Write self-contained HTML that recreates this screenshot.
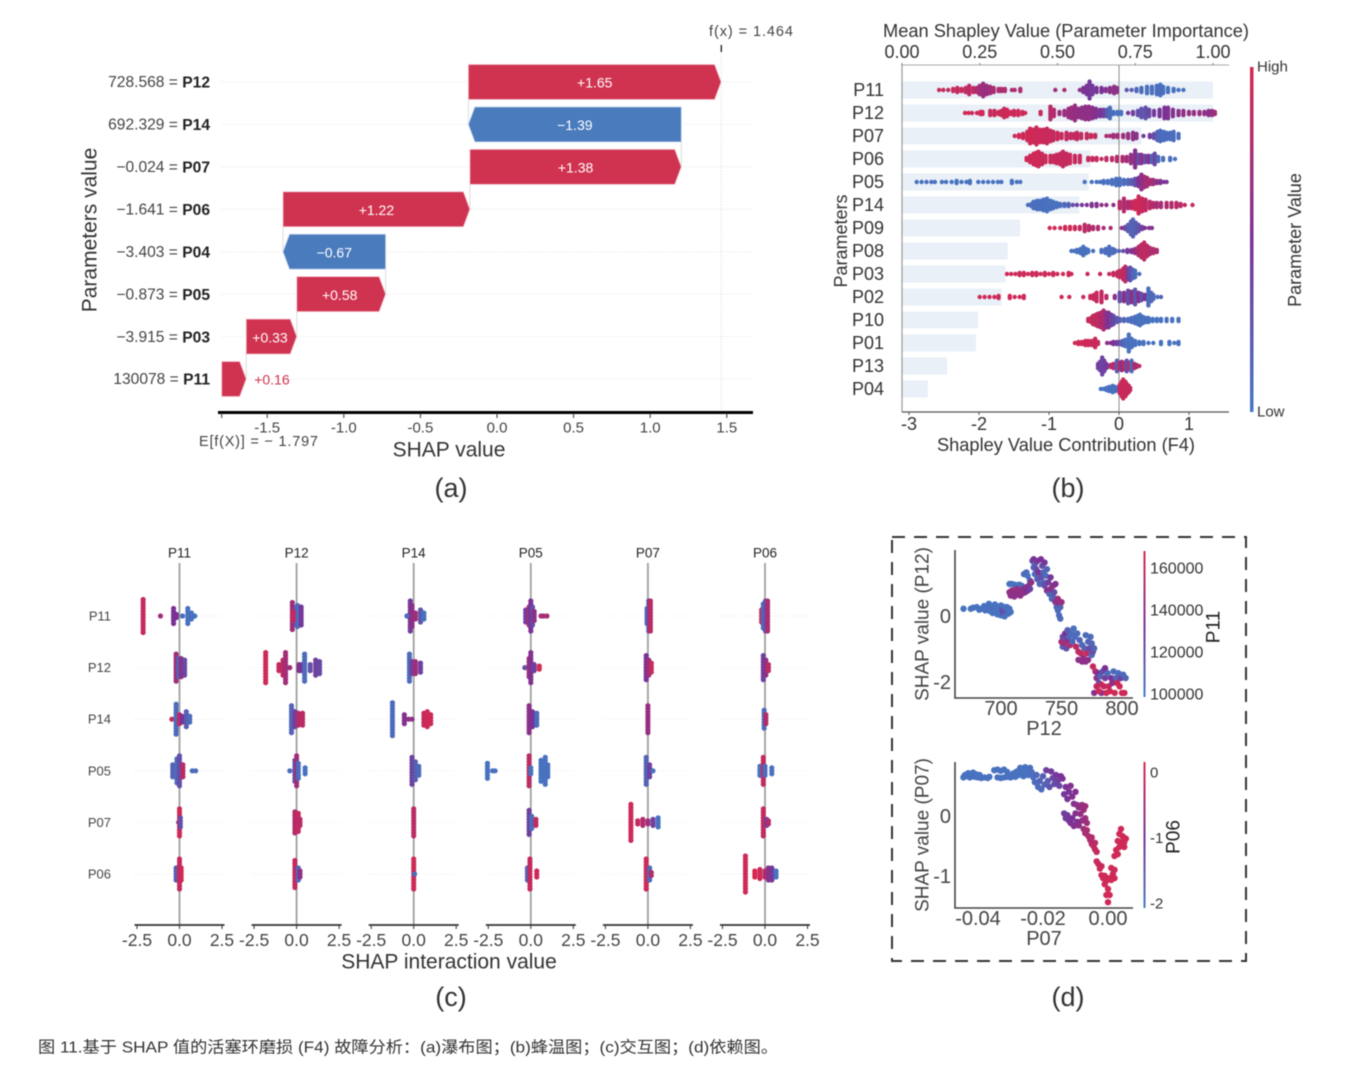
<!DOCTYPE html>
<html lang="zh">
<head>
<meta charset="utf-8">
<title>SHAP fault analysis figure</title>
<style>
html,body{margin:0;padding:0;background:#fff;}
svg{display:block;filter:blur(0.5px);}
text{font-family:"Liberation Sans","Noto Sans CJK SC",sans-serif;}
</style>
</head>
<body>
<svg id="figure" xmlns="http://www.w3.org/2000/svg" width="1355" height="1074" viewBox="0 0 1355 1074">
<defs>
<linearGradient id="cmap" x1="0" y1="1" x2="0" y2="0">
<stop offset="0" stop-color="#4279c4"/>
<stop offset="0.5" stop-color="#7a3296"/>
<stop offset="1" stop-color="#d72850"/>
</linearGradient>
</defs>
<rect x="0" y="0" width="1355" height="1074" fill="#fff"/>
<g id="panelA"></g>
<g id="panelB"></g>
<g id="panelC"></g>
<g id="panelD">
<rect x="892" y="537" width="354" height="424" fill="none" stroke="#333" stroke-width="2" stroke-dasharray="13 9"/>
</g>

<text transform="translate(90 230) rotate(-90)" text-anchor="middle" dominant-baseline="central" font-size="21" fill="#333">Parameters value</text>
<text x="449" y="450" text-anchor="middle" dominant-baseline="central" font-size="21" fill="#333">SHAP value</text>
<text x="709" y="32" dominant-baseline="central" font-size="14.5" fill="#444" textLength="84" lengthAdjust="spacing">f(x) = 1.464</text>
<text x="199" y="442" dominant-baseline="central" font-size="14.5" fill="#444" textLength="119" lengthAdjust="spacing">E[f(X)] = − 1.797</text>
<text x="451" y="488" text-anchor="middle" dominant-baseline="central" font-size="27" fill="#333">(a)</text>

<text x="883" y="31" dominant-baseline="central" font-size="18" fill="#333" textLength="366" lengthAdjust="spacingAndGlyphs">Mean Shapley Value (Parameter Importance)</text>
<text x="937" y="445" dominant-baseline="central" font-size="18" fill="#333" textLength="258" lengthAdjust="spacingAndGlyphs">Shapley Value Contribution (F4)</text>
<text transform="translate(841 241) rotate(-90)" text-anchor="middle" dominant-baseline="central" font-size="18" fill="#333">Parameters</text>
<rect x="1250" y="67" width="3.5" height="345" fill="url(#cmap)"/>
<text x="1257" y="67" dominant-baseline="central" font-size="15" fill="#333">High</text>
<text x="1257" y="412" dominant-baseline="central" font-size="15" fill="#333">Low</text>
<text transform="translate(1295 240) rotate(-90)" text-anchor="middle" dominant-baseline="central" font-size="18" fill="#333">Parameter Value</text>
<text x="1068" y="488" text-anchor="middle" dominant-baseline="central" font-size="27" fill="#333">(b)</text>

<text x="449" y="962" text-anchor="middle" dominant-baseline="central" font-size="21" fill="#333">SHAP interaction value</text>
<text x="451" y="997" text-anchor="middle" dominant-baseline="central" font-size="27" fill="#333">(c)</text>
<text x="1068" y="997" text-anchor="middle" dominant-baseline="central" font-size="27" fill="#333">(d)</text>

<text transform="translate(923 624) rotate(-90)" text-anchor="middle" dominant-baseline="central" font-size="19" fill="#444">SHAP value (P12)</text>
<text x="1044" y="729" text-anchor="middle" dominant-baseline="central" font-size="20" fill="#444">P12</text>
<text transform="translate(1214 627) rotate(-90)" text-anchor="middle" dominant-baseline="central" font-size="19" fill="#222">P11</text>
<rect x="1143.5" y="551" width="2" height="146" fill="url(#cmap)"/>
<text transform="translate(923 835) rotate(-90)" text-anchor="middle" dominant-baseline="central" font-size="19" fill="#444">SHAP value (P07)</text>
<text x="1044" y="939" text-anchor="middle" dominant-baseline="central" font-size="20" fill="#444">P07</text>
<text transform="translate(1174 837) rotate(-90)" text-anchor="middle" dominant-baseline="central" font-size="19" fill="#222">P06</text>
<rect x="1143.5" y="762" width="2" height="146" fill="url(#cmap)"/>

<text x="38" y="1048" dominant-baseline="central" font-size="16" fill="#333" textLength="740" lengthAdjust="spacingAndGlyphs">图 11.基于 SHAP 值的活塞环磨损 (F4) 故障分析：(a)瀑布图；(b)蜂温图；(c)交互图；(d)依赖图。</text>
</svg>

<script>
/* ---------- Panel (a) waterfall data ---------- */
const waterfallBase = -1.797;
const waterfallFeatures = ['P11','P03','P05','P04','P06','P07','P14','P12'];
const waterfallFeatureValues = ['130078','−3.915','−0.873','−3.403','−1.641','−0.024','692.329','728.568'];
const waterfallShap = [0.16,0.33,0.58,-0.67,1.22,1.38,-1.39,1.65];
const waterfallTicks = [-1.5,-1.0,-0.5,0.0,0.5,1.0,1.5];

/* ---------- Panel (b) beeswarm data: [shap value, stacked points, feature value 0..1] ---------- */
const importanceFeatures = ['P11','P12','P07','P06','P05','P14','P09','P08','P03','P02','P10','P01','P13','P04'];
const importanceMeans = [1.00,1.00,0.77,0.607,0.60,0.57,0.38,0.34,0.333,0.32,0.245,0.238,0.145,0.083];
const importanceTicks = [0,0.25,0.5,0.75,1];
const contributionTicks = [-3,-2,-1,0,1];
const beeP11 = [[-2.57,1,.9],[-2.51,1,.9],[-2.44,1,.9],[-2.37,2,.92],[-2.31,3,.9],[-2.25,2,.92],[-2.19,3,.88],[-2.14,5,.88],[-2.08,3,.85],[-2.03,3,.78],[-1.99,5,.72],[-1.94,7,.66],[-1.89,5,.66],[-1.84,4,.72],[-1.79,3,.75],[-1.72,2,.8],[-1.68,2,.75],[-1.63,2,.8],[-1.53,1,.75],[-1.49,1,.8],[-1.41,2,.75],[-0.91,1,.7],[-0.78,1,.75],[-0.56,1,.6],[-0.51,3,.5],[-0.46,5,.5],[-0.42,9,.45],[-0.38,5,.45],[-0.32,3,.5],[-0.25,3,.5],[-0.19,2,.55],[-0.13,3,.6],[-0.07,4,.6],[-0.03,3,.6],[0.11,1,.25],[0.18,1,.2],[0.25,2,.12],[0.32,3,.1],[0.4,4,.08],[0.47,4,.08],[0.54,5,.08],[0.59,6,.08],[0.63,4,.06],[0.7,3,.05],[0.78,2,.05],[0.85,1,.05],[0.92,1,.05]];
const beeP12 = [[-2.2,1,.95],[-2.15,1,.95],[-2.1,1,.95],[-2.03,1,.95],[-1.98,2,.95],[-1.95,2,.95],[-1.84,3,.92],[-1.78,3,.92],[-1.72,2,.95],[-1.68,3,.95],[-1.64,5,.92],[-1.6,4,.95],[-1.55,2,.95],[-1.5,3,.92],[-1.44,3,.95],[-1.38,2,.92],[-1.34,1,.95],[-1.12,2,.9],[-0.98,7,.82],[-0.93,4,.8],[-0.85,2,.7],[-0.78,3,.68],[-0.72,5,.66],[-0.68,6,.68],[-0.63,8,.65],[-0.58,5,.62],[-0.53,6,.62],[-0.48,7,.6],[-0.43,7,.62],[-0.38,6,.58],[-0.33,5,.55],[-0.27,4,.5],[-0.22,4,.4],[-0.17,4,.2],[-0.13,6,.1],[-0.08,2,.1],[-0.02,2,.05],[0.03,2,.05],[0.13,1,.5],[0.2,2,.4],[0.27,3,.3],[0.32,5,.25],[0.38,6,.28],[0.43,4,.35],[0.5,3,.45],[0.58,4,.5],[0.65,6,.5],[0.7,6,.52],[0.77,4,.55],[0.85,3,.6],[0.92,3,.62],[1.0,2,.65],[1.07,2,.62],[1.15,2,.68],[1.22,2,.62],[1.28,3,.6],[1.33,3,.62],[1.37,2,.7]];
const beeP07 = [[-1.49,1,.95],[-1.43,2,.95],[-1.37,3,.95],[-1.31,5,.95],[-1.27,8,.95],[-1.23,7,.95],[-1.18,9,.92],[-1.13,7,.95],[-1.08,7,.92],[-1.03,8,.92],[-0.98,6,.92],[-0.94,5,.9],[-0.88,4,.92],[-0.82,3,.92],[-0.75,4,.9],[-0.69,3,.88],[-0.64,3,.9],[-0.6,4,.88],[-0.54,3,.9],[-0.46,3,.88],[-0.4,2,.9],[-0.34,2,.88],[-0.18,1,.75],[-0.13,1,.75],[-0.08,2,.7],[-0.02,2,.72],[0.06,2,.7],[0.13,3,.65],[0.2,4,.6],[0.25,3,.6],[0.35,1,.45],[0.44,2,.45],[0.5,3,.3],[0.55,5,.15],[0.59,6,.1],[0.64,5,.08],[0.68,4,.1],[0.73,4,.08],[0.78,5,.08],[0.85,3,.08]];
const beeP06 = [[-1.32,2,.95],[-1.27,4,.95],[-1.22,6,.95],[-1.18,7,.95],[-1.15,8,.95],[-1.1,6,.92],[-1.05,4,.95],[-0.98,4,.92],[-0.93,4,.92],[-0.89,5,.9],[-0.84,6,.92],[-0.8,8,.9],[-0.75,6,.9],[-0.7,5,.92],[-0.63,4,.9],[-0.56,4,.92],[-0.44,2,.9],[-0.38,2,.9],[-0.32,2,.92],[-0.25,1,.9],[-0.18,2,.85],[-0.1,2,.85],[-0.03,3,.8],[0.05,3,.78],[0.11,3,.7],[0.17,5,.65],[0.23,9,.55],[0.28,5,.3],[0.32,5,.6],[0.37,4,.3],[0.42,4,.55],[0.47,4,.15],[0.51,6,.35],[0.56,3,.12],[0.63,2,.08],[0.73,2,.08],[0.8,1,.05]];
const beeP05 = [[-2.89,1,.05],[-2.82,1,.05],[-2.75,1,.05],[-2.68,1,.05],[-2.63,1,.05],[-2.53,1,.05],[-2.47,1,.05],[-2.39,1,.05],[-2.32,2,.05],[-2.25,1,.05],[-2.18,1,.05],[-2.13,2,.05],[-2.01,1,.05],[-1.94,1,.05],[-1.87,1,.05],[-1.8,1,.05],[-1.73,1,.05],[-1.68,1,.05],[-1.53,2,.05],[-1.46,1,.05],[-1.41,1,.05],[-0.49,1,.05],[-0.39,1,.05],[-0.32,1,.05],[-0.27,1,.05],[-0.22,2,.05],[-0.16,2,.05],[-0.1,3,.05],[-0.04,4,.06],[0.01,4,.08],[0.07,3,.1],[0.13,3,.12],[0.18,3,.2],[0.23,4,.3],[0.28,5,.5],[0.32,8,.62],[0.36,6,.7],[0.4,5,.72],[0.45,3,.75],[0.49,3,.7],[0.54,2,.6],[0.59,2,.55],[0.64,1,.5],[0.68,1,.5]];
const beeP14 = [[-1.3,1,.08],[-1.25,2,.08],[-1.22,4,.08],[-1.17,5,.08],[-1.13,5,.06],[-1.08,6,.06],[-1.03,7,.05],[-0.98,5,.05],[-0.94,4,.05],[-0.89,3,.05],[-0.84,2,.08],[-0.78,2,.1],[-0.72,2,.15],[-0.66,1,.3],[-0.6,1,.4],[-0.53,1,.45],[-0.46,1,.5],[-0.39,2,.52],[-0.32,2,.55],[-0.25,1,.6],[-0.18,1,.6],[-0.08,1,.6],[0.01,4,.82],[0.07,7,.8],[0.13,4,.78],[0.18,4,.85],[0.23,5,.95],[0.28,9,.95],[0.33,7,.9],[0.38,6,.88],[0.44,4,.85],[0.49,3,.8],[0.54,3,.75],[0.6,3,.75],[0.68,3,.78],[0.75,3,.8],[0.82,3,.82],[0.88,2,.85],[0.94,1,.9],[1.05,1,.9]];
const beeP09 = [[-0.99,1,.95],[-0.92,1,.95],[-0.84,1,.95],[-0.77,2,.95],[-0.7,2,.95],[-0.63,2,.92],[-0.56,2,.88],[-0.49,4,.85],[-0.43,3,.82],[-0.37,2,.8],[-0.3,2,.78],[-0.22,1,.75],[-0.12,1,.75],[0.04,1,.6],[0.09,2,.35],[0.13,4,.2],[0.17,7,.15],[0.2,9,.15],[0.24,6,.2],[0.28,4,.25],[0.33,2,.4],[0.37,1,.5],[0.43,1,.55],[0.47,1,.55]];
const beeP08 = [[-0.68,1,.05],[-0.64,1,.05],[-0.6,2,.05],[-0.55,3,.05],[-0.51,5,.05],[-0.47,3,.05],[-0.44,2,.05],[-0.37,1,.05],[-0.25,2,.06],[-0.19,3,.08],[-0.14,5,.08],[-0.09,3,.08],[-0.06,2,.1],[0,1,.15],[0.06,1,.3],[0.12,2,.45],[0.18,2,.55],[0.23,3,.65],[0.28,5,.8],[0.32,7,.85],[0.36,9,.88],[0.4,6,.85],[0.44,4,.8],[0.49,3,.8],[0.54,2,.75]];
const beeP03 = [[-1.6,1,.95],[-1.54,1,.95],[-1.48,1,.95],[-1.42,2,.95],[-1.36,2,.95],[-1.3,1,.95],[-1.24,2,.95],[-1.18,2,.95],[-1.12,1,.95],[-1.06,2,.95],[-1,1,.95],[-0.94,2,.95],[-0.88,1,.95],[-0.8,1,.95],[-0.72,2,.95],[-0.68,1,.95],[-0.45,1,.9],[-0.27,1,.9],[-0.14,1,.9],[-0.08,2,.9],[-0.02,3,.9],[0.01,4,.9],[0.06,6,.9],[0.09,8,.85],[0.13,6,.4],[0.16,7,.3],[0.2,5,.15],[0.23,4,.1],[0.29,1,.08]];
const beeP02 = [[-1.99,1,.95],[-1.92,1,.95],[-1.85,1,.95],[-1.78,1,.95],[-1.72,2,.95],[-1.56,2,.95],[-1.49,1,.95],[-1.42,1,.95],[-1.36,2,.95],[-0.82,1,.95],[-0.71,1,.95],[-0.51,1,.92],[-0.41,2,.92],[-0.36,3,.92],[-0.32,5,.9],[-0.25,6,.88],[-0.18,2,.85],[-0.06,2,.6],[0.01,5,.3],[0.07,5,.55],[0.13,7,.3],[0.18,6,.6],[0.23,8,.25],[0.28,5,.55],[0.32,4,.3],[0.37,3,.5],[0.42,9,.1],[0.46,5,.12],[0.49,3,.1],[0.55,1,.1],[0.6,1,.15]];
const beeP10 = [[-0.44,2,.9],[-0.4,3,.92],[-0.37,5,.9],[-0.33,6,.85],[-0.3,7,.88],[-0.26,8,.8],[-0.22,10,.78],[-0.18,8,.6],[-0.15,8,.52],[-0.11,6,.4],[-0.08,5,.35],[-0.03,3,.25],[0.01,2,.2],[0.07,2,.12],[0.13,2,.1],[0.18,3,.08],[0.23,4,.08],[0.27,5,.05],[0.3,6,.05],[0.34,4,.05],[0.38,3,.05],[0.42,3,.05],[0.48,2,.05],[0.54,2,.05],[0.6,2,.05],[0.68,2,.05],[0.76,2,.05],[0.85,2,.05]];
const beeP01 = [[-0.63,1,.95],[-0.58,2,.95],[-0.53,2,.95],[-0.48,3,.95],[-0.44,3,.95],[-0.39,3,.92],[-0.34,5,.92],[-0.3,2,.9],[-0.17,1,.6],[-0.12,1,.6],[-0.08,2,.5],[-0.03,2,.45],[0.01,2,.3],[0.05,3,.15],[0.09,4,.08],[0.14,9,.05],[0.18,5,.05],[0.23,3,.05],[0.29,2,.05],[0.35,2,.05],[0.42,1,.05],[0.49,1,.05],[0.6,2,.05],[0.72,2,.05],[0.79,1,.05],[0.85,2,.05]];
const beeP13 = [[-0.3,3,.4],[-0.27,5,.4],[-0.24,9,.38],[-0.21,6,.4],[-0.18,3,.45],[-0.12,2,.8],[-0.08,3,.85],[-0.03,6,.2],[0.01,4,.85],[0.04,5,.6],[0.08,4,.9],[0.11,6,.3],[0.15,4,.85],[0.18,6,.1],[0.22,3,.8],[0.25,2,.7],[0.29,1,.9]];
const beeP04 = [[-0.26,1,.05],[-0.22,1,.05],[-0.18,2,.05],[-0.14,3,.05],[-0.09,4,.05],[-0.05,3,.05],[-0.03,2,.1],[0.01,5,.9],[0.04,8,.92],[0.06,10,.92],[0.09,8,.92],[0.11,6,.92],[0.14,4,.9],[0.16,2,.9]];
const beeRows = [beeP11,beeP12,beeP07,beeP06,beeP05,beeP14,beeP09,beeP08,beeP03,beeP02,beeP10,beeP01,beeP13,beeP04];

/* ---------- Panel (c) interaction data: per row, one cluster list per column ---------- */
const interactionColumns = ['P11','P12','P14','P05','P07','P06'];
const interactionTicks = [-2.5,0,2.5];
const interactionP11 = [
 [[-2.14,12,.9],[-1.12,1,.7],[-.35,6,.5],[-.18,2,.5],[.18,1,.1],[.49,6,.05],[.7,3,.05],[.9,1,.05]],
 [[-.25,10,.7],[-.05,6,.3],[.05,8,.1],[.27,7,.45],[-.2,4,.9]],
 [[-.2,11,.45],[-.1,8,.6],[-.4,1,.1],[.1,3,.7],[.4,5,.25],[.6,3,.05]],
 [[-.3,5,.4],[-.1,7,.75],[0,11,.5],[.1,7,.3],[.2,4,.6],[.6,1,.75],[.75,1,.75],[.95,1,.75]],
 [[-.05,6,.1],[.05,11,.3],[.15,11,.85]],
 [[-.2,5,.95],[-.1,9,.1],[.03,11,.25],[.15,11,.75]]];
const interactionP12 = [
 [[-.2,10,.7],[-.05,7,.15],[.1,7,.6],[.3,6,.35]],
 [[-1.82,11,.95],[-1.04,3,.9],[-.8,6,.85],[-.65,11,.72],[-.4,1,.7],[.14,3,.55],[.3,3,.5],[.47,10,.1],[.8,3,.3],[1.12,6,.4],[1.35,5,.35]],
 [[-.25,10,.1],[-.1,5,.4],[.1,5,.7],[.4,4,.4]],
 [[-.35,1,.3],[-.1,7,.7],[0,11,.55],[.2,3,.4],[.5,2,1]],
 [[-.1,9,.5],[.05,6,.7],[.2,4,.9]],
 [[-.1,9,.4],[.05,6,.6],[.2,3,.85]]];
const interactionP14 = [
 [[-.45,1,.9],[-.2,11,.1],[0,4,.9],[.15,3,.5],[.4,6,.2],[.6,3,.1]],
 [[-.3,10,.15],[-.1,6,.4],[.1,5,.8],[.35,5,.85]],
 [[-1.25,12,.1],[-.55,4,.55],[-.3,1,.6],[-.1,1,.6],[.6,5,.9],[.8,6,.95],[1.0,4,.95]],
 [[-.1,10,.6],[.1,6,.5],[.35,5,.1]],
 [[0,10,.65]],
 [[-.05,7,.1],[.05,4,.8]]];
const interactionP05 = [
 [[-.4,5,.15],[-.15,9,.1],[0,11,.3],[.2,5,.85],[.75,1,.1],[.95,1,.1]],
 [[-.4,1,.1],[-.1,8,.3],[0,11,.7],[.1,6,.1],[.5,3,.05]],
 [[-.1,10,.4],[.1,7,.2],[.3,4,.1]],
 [[-2.55,6,.05],[-2.25,1,.05],[-2.1,1,.05],[-.1,11,.85],[0,3,.05],[.6,8,.05],[.85,10,.05],[1,5,.05]],
 [[-.1,10,.15],[.1,5,.4],[.3,1,.05]],
 [[-.3,4,.05],[-.1,10,.9],[0,4,.1],[.4,3,.05]]];
const interactionP07 = [
 [[-.05,1,.4],[0,10,.95],[.05,4,.3]],
 [[-.1,8,.8],[.1,7,.9],[.2,3,.85]],
 [[0,10,.85]],
 [[-.1,9,.4],[.05,5,.1],[.3,3,.9]],
 [[-1,13,.95],[-.6,2,.9],[-.3,3,.8],[0,2,.7],[.3,3,.4],[.6,4,.05]],
 [[-.1,10,.9],[.1,3,.4],[.2,2,.8]]];
const interactionP06 = [
 [[-.2,5,.2],[0,11,.9],[.1,5,.95]],
 [[-.1,10,.9],[.1,5,.1],[.2,3,.6]],
 [[0,11,.95],[.05,1,.1]],
 [[-.2,5,.15],[-.05,11,.9],[.35,3,.95]],
 [[-.1,11,.95],[.1,5,.1],[.2,2,.8]],
 [[-1.15,13,.95],[-.6,3,1],[-.3,4,.95],[0,3,.8],[.2,5,.6],[.4,5,.45],[.65,3,.05]]];
const interactionRows = [interactionP11,interactionP12,interactionP14,interactionP05,interactionP07,interactionP06];
const interactionRowNames = ['P11','P12','P14','P05','P07','P06'];

/* ---------- Panel (d) dependence data: [feature value, shap value, colour feature 0..1] ---------- */
const dependenceP12 = [[669,.25,.05],[675,.25,.05],[677,.28,.05],[680,.3,.05],[682,.22,.05],[684,.25,.05],[686,.33,.05],[687,.2,.05],[689,.28,.05],[690,.4,.05],[691,.18,.05],[692,.3,.05],[693,.12,.05],[694,.25,.08],[695,.38,.05],[696,.2,.05],[697,.08,.05],[698,.3,.05],[699,.15,.05],[700,.35,.05],[700,.05,.05],[701,.22,.3],[702,.12,.35],[703,.3,.05],[703,.02,.05],[704,.18,.2],[705,.3,.05],[706,.1,.05],[707,.25,.05],[708,.15,.05],
[707,1.0,.05],[709,1.0,.05],[711,.98,.05],[713,.96,.05],[715,.98,.05],[717,.95,.1],[719,.9,.1],
[707,.75,.6],[708,.65,.6],[709,.8,.65],[710,.68,.65],[711,.62,.6],[712,.75,.6],[713,.85,.65],[714,.68,.6],[715,.78,.6],[716,.65,.6],[717,.8,.65],[718,.72,.6],[719,.85,.55],[720,.75,.6],[721,.9,.6],[722,.8,.5],[723,.95,.55],[724,.85,.4],
[719,1.3,.1],[721,1.35,.1],[722,1.25,.05],[724,1.1,.2],[725,1.05,.6],[726,1.7,.3],[727,1.75,.5],[727,1.5,.15],[728,1.6,.2],[728,1.3,.1],[729,1.45,.3],[730,1.15,.2],[730,1.7,.5],[731,1.35,.5],[732,1.0,.15],[733,1.75,.5],[733,1.2,.3],[734,1.55,.3],[735,1.05,.15],[735,1.35,.15],[736,1.65,.45],[736,.95,.3],[737,1.25,.1],[738,1.45,.15],[738,.8,.55],[739,1.05,.4],[740,.7,.15],[741,1.2,.45],[741,.85,.6],[742,.55,.1],[743,.95,.6],[743,.6,.15],[744,.75,.3],[745,.45,.6],[745,1.0,.55],[746,.3,.15],[747,.55,.7],[747,.2,.1],[748,.4,.6],[748,.05,.1],[749,.3,.15],[749,-.05,.1],[750,.45,.65],
[750,-.75,.7],[751,-.9,.15],[751,-.6,.3],[752,-.8,.75],[753,-.5,.5],[754,-.95,.3],[755,-.4,.2],[755,-.7,.6],[756,-.6,.15],[757,-.85,.8],[758,-.5,.1],[759,-.75,.15],[760,-.35,.05],[761,-.6,.1],[762,-.9,.85],[763,-.5,.1],[764,-1.05,.85],[764,-1.3,.6],[765,-.7,.15],[766,-1.1,.9],[767,-.85,.1],[767,-1.35,.6],[768,-1.25,.65],[769,-.95,.2],[770,-.55,.1],[770,-1.35,.6],[771,-1.1,.9],[772,-.75,.15],[772,-1.3,.6],[773,-.95,.3],[774,-.6,.1],[775,-1.15,.1],[775,-.8,.15],[776,-1.05,.3],[777,-.95,.15],
[776,-1.5,.9],[778,-1.65,.85],[779,-1.85,.6],[780,-1.7,.5],[781,-2.0,.3],[782,-1.8,.15],[783,-2.3,.5],[784,-1.65,.3],[785,-2.1,.95],[786,-1.85,.4],[787,-2.3,.95],[788,-1.7,.1],[789,-2.1,.9],[790,-2.25,.95],[791,-1.85,.5],[792,-2.0,.6],[793,-1.65,.1],[794,-2.3,.95],[795,-1.85,.15],[796,-2.0,.9],[797,-1.7,.1],[798,-2.1,.95],[799,-1.85,.4],[800,-2.3,.95],[801,-1.75,.1],[802,-2.3,.95],[803,-1.85,.15],[777,-2.3,.55],[779,-2.1,.9],[781,-2.25,.95],[783,-2.05,.9],[786,-1.55,.5]];
const dependenceP07 = [[-.0445,.66,.05],[-.044,.7,.05],[-.0435,.68,.05],[-.043,.73,.05],[-.0425,.66,.05],[-.042,.7,.05],[-.0415,.74,.05],[-.041,.67,.05],[-.0405,.71,.05],[-.04,.66,.05],[-.0395,.7,.05],[-.039,.65,.05],[-.038,.66,.05],[-.037,.65,.05],[-.0365,.67,.05],
[-.035,.78,.05],[-.034,.79,.05],[-.033,.77,.05],[-.032,.79,.05],[-.031,.75,.05],[-.034,.66,.05],[-.033,.65,.05],[-.032,.66,.05],[-.031,.67,.05],[-.03,.66,.05],
[-.0295,.7,.05],[-.029,.73,.05],[-.0285,.67,.05],[-.028,.76,.05],[-.0275,.7,.05],[-.027,.82,.05],[-.0265,.75,.05],[-.026,.68,.05],[-.0255,.83,.05],[-.025,.76,.05],[-.0245,.7,.05],[-.024,.82,.05],[-.0235,.75,.08],[-.023,.66,.08],[-.0225,.58,.1],[-.022,.7,.12],[-.0215,.5,.1],[-.021,.6,.15],[-.0205,.46,.1],[-.02,.68,.2],[-.0195,.54,.15],
[-.019,.78,.4],[-.0185,.6,.2],[-.018,.5,.25],[-.0175,.76,.45],[-.017,.65,.35],[-.0165,.55,.3],[-.016,.7,.45],[-.0155,.6,.4],[-.015,.52,.35],[-.0145,.68,.5],[-.014,.64,.5],
[-.0135,.38,.45],[-.013,.5,.5],[-.0125,.3,.5],[-.012,.42,.5],[-.0115,.52,.55],[-.011,.34,.55],[-.0105,.22,.55],[-.01,.42,.55],[-.0135,.06,.4],[-.013,-.02,.42],[-.0125,.03,.45],[-.012,-.06,.45],[-.0115,-.1,.5],[-.011,-.02,.5],[-.0105,-.15,.55],[-.01,.06,.55],[-.0095,.2,.6],[-.0095,-.08,.55],[-.009,.16,.62],[-.009,-.14,.6],[-.0085,.05,.62],[-.008,.2,.65],[-.008,-.06,.62],[-.0075,.12,.68],[-.007,-.02,.68],[-.007,.18,.7],[-.0065,-.1,.7],
[-.0075,-.2,.7],[-.007,-.27,.72],[-.0065,-.22,.75],[-.006,-.32,.75],[-.0055,-.38,.78],[-.005,-.34,.8],[-.005,-.45,.82],[-.0045,-.48,.85],[-.004,-.43,.85],[-.004,-.54,.88],[-.0035,-.58,.9],
[-.0035,-.74,.92],[-.003,-.78,.92],[-.0025,-.86,.95],[-.002,-.82,.92],[-.002,-.97,.95],[-.0015,-1.02,.95],[-.001,-.98,.95],[-.001,-1.12,.95],[-.0005,-1.3,.95],[-.0005,-1.06,.95],[0,-1.42,.95],[0,-1.2,.95],[.0005,-1.3,.95],[.0005,-1.02,.95],[.001,-1.05,.95],[.001,-.85,.95],[.0015,-.95,.95],[.002,-1.02,.95],[.002,-.88,.95],
[.002,-.65,.95],[.0025,-.55,.95],[.003,-.62,.95],[.003,-.4,.95],[.0035,-.5,.95],[.0035,-.28,.95],[.004,-.42,.95],[.004,-.2,.95],[.0045,-.32,.95],[.005,-.42,.95],[.005,-.5,.95],[.0055,-.36,.95]];
const depP12Ticks = [700,750,800];
const depP12YTicks = [0,-2];
const depP12ColorTicks = [160000,140000,120000,100000];
const depP07Ticks = [-0.04,-0.02,0];
const depP07YTicks = [0,-1];
const depP07ColorTicks = [0,-1,-2];

/* ---------- Axis functions ---------- */
const waterfallX = v => 497 + 153.2 * v;
const waterfallRow = i => 379 - 42.43 * i;
const meanX = v => 902 + 311 * v;
const contribX = v => 1119 + 70 * v;
const beeRow = i => 90 + 23 * i;
const interCol = i => 179.5 + 117.1 * i;
const interRow = i => 616 + 51.6 * i;
const interX = (col, v) => interCol(col) + 17 * v;
const dep1X = v => 1001 + 1.21 * (v - 700);
const dep1Y = v => 617 - 33 * v;
const dep1CY = v => 695 - (v - 100000) * (126 / 60000);
const dep2X = v => 1108 + 3250 * v;
const dep2Y = v => 817 - 60 * v;
const dep2CY = v => 773 - 65.5 * v;

/* ---------- Drawing helpers ---------- */
const NS = 'http://www.w3.org/2000/svg';
function mk(tag, attrs, parent) {
  const e = document.createElementNS(NS, tag);
  for (const k in attrs) e.setAttribute(k, attrs[k]);
  parent.appendChild(e);
  return e;
}
function txt(parent, x, y, str, size, fill, anchor) {
  const e = mk('text', {x: x, y: y, 'font-size': size, fill: fill, 'text-anchor': anchor || 'middle', 'dominant-baseline': 'central'}, parent);
  e.textContent = str;
  return e;
}
function colour(c) {
  const lo = [66,121,196], mid = [122,50,150], hi = [215,40,80];
  const a = c < .5 ? lo : mid, b = c < .5 ? mid : hi, t = c < .5 ? c / .5 : (c - .5) / .5;
  return 'rgb(' + [0,1,2].map(i => Math.round(a[i] + (b[i] - a[i]) * t)).join(',') + ')';
}

/* ---------- Panel (a) ---------- */
const panelA = document.getElementById('panelA');
(function () {
  const RED = '#d03350', BLUE = '#4a7bbd';
  waterfallFeatures.forEach((name, i) => {
    const y = waterfallRow(i);
    const grid = mk('line', {x1: 222, x2: 753, y1: y, y2: y, stroke: '#e2e2e2', 'stroke-width': 1, 'stroke-dasharray': '1 2'}, panelA);
    
    
  });
  const fxLine = mk('line', {x1: waterfallX(1.464), x2: waterfallX(1.464), y1: 48, y2: 412, stroke: '#d5d5d5', 'stroke-width': 1, 'stroke-dasharray': '1 2'}, panelA);
  
  
  const fxTick = mk('line', {x1: waterfallX(1.464), x2: waterfallX(1.464), y1: 45, y2: 52, stroke: '#333', 'stroke-width': 1.5}, panelA);
  
  

  let cum = waterfallBase;
  waterfallFeatures.forEach((name, i) => {
    const d = waterfallShap[i], y = waterfallRow(i), x0 = waterfallX(cum), x1 = waterfallX(cum + d);
    const h = 17.5, head = Math.min(6.5, Math.abs(x1 - x0) * .4), dir = d > 0 ? 1 : -1;
    const next = i + 1 < waterfallFeatures.length ? waterfallRow(i + 1) : y;
    const conn = mk('line', {x1: x1, x2: x1, y1: y, y2: i + 1 < waterfallFeatures.length ? next + h : y, stroke: '#dcdcdc', 'stroke-width': 1}, panelA);
    
    
    const pts = [[x0, y - h], [x1 - dir * head, y - h], [x1, y], [x1 - dir * head, y + h], [x0, y + h]].map(p => p.join(',')).join(' ');
    const bar = mk('polygon', {points: pts, fill: d > 0 ? RED : BLUE, stroke: d > 0 ? '#f3c6d0' : '#c6d8ee', 'stroke-width': .8}, panelA);
    
    
    const w = Math.abs(x1 - x0);
    const lbl = (d > 0 ? '+' : '−') + Math.abs(d).toFixed(2);
    const inside = w > 40;
    const valueLabel = txt(panelA, inside ? (x0 + x1) / 2 - (w < 100 ? 1.5 : 0) : Math.max(x0, x1) + 8, y + .7, lbl, 14, inside ? '#fff' : RED, inside ? 'middle' : 'start');
    
    
    const rowLabel = txt(panelA, 210, y + .7, waterfallFeatureValues[i] + ' = ', 15.6, '#444', 'end');
    const b = mk('tspan', {'font-weight': 'bold', fill: '#222'}, rowLabel);
    b.textContent = name;
    
    
    cum += d;
  });

  const axis = mk('line', {x1: 218, x2: 753, y1: 412.5, y2: 412.5, stroke: '#000', 'stroke-width': 3}, panelA);
  
  
  waterfallTicks.forEach(v => {
    const t = mk('line', {x1: waterfallX(v), x2: waterfallX(v), y1: 413, y2: 418, stroke: '#333', 'stroke-width': 1}, panelA);
    
    
    const l = txt(panelA, waterfallX(v), 428, v.toFixed(1), 15, '#444');
    
    
  });
  const baseTick = mk('line', {x1: waterfallX(waterfallBase), x2: waterfallX(waterfallBase), y1: 413, y2: 418, stroke: '#333', 'stroke-width': 1}, panelA);
  
  
})();

/* ---------- Panel (b) ---------- */
const panelB = document.getElementById('panelB');
(function () {
  importanceFeatures.forEach((name, i) => {
    const y = beeRow(i);
    const bar = mk('rect', {x: meanX(0), y: y - 8.5, width: meanX(importanceMeans[i]) - meanX(0), height: 17, fill: '#e9f0f7'}, panelB);
    
    
    const l = txt(panelB, 884, y, name, 18, '#333', 'end');
    
    
  });
  const top = mk('line', {x1: 902, x2: 1229, y1: 65, y2: 65, stroke: '#aaa', 'stroke-width': 1}, panelB);
  
  
  const left = mk('line', {x1: 902, x2: 902, y1: 65, y2: 412, stroke: '#999', 'stroke-width': 1.2}, panelB);
  
  
  const bottom = mk('line', {x1: 902, x2: 1229, y1: 412, y2: 412, stroke: '#555', 'stroke-width': 1.2}, panelB);
  
  
  const zero = mk('line', {x1: contribX(0), x2: contribX(0), y1: 65, y2: 412, stroke: '#8a8a8a', 'stroke-width': 1}, panelB);
  
  
  importanceTicks.forEach(v => {
    const t = mk('line', {x1: meanX(v), x2: meanX(v), y1: 63, y2: 65, stroke: '#777', 'stroke-width': 1}, panelB);
    
    
    const l = txt(panelB, meanX(v), 52, v.toFixed(2), 18, '#333');
    
    
  });
  contributionTicks.forEach(v => {
    const t = mk('line', {x1: contribX(v), x2: contribX(v), y1: 412, y2: 415, stroke: '#555', 'stroke-width': 1}, panelB);
    
    
    const l = txt(panelB, contribX(v), 424, String(v), 18, '#333');
    
    
  });
  beeRows.forEach((row, i) => {
    const yc = beeRow(i);
    row.forEach(pt => {
      for (let k = 0; k < pt[1]; k++) {
        const dot = mk('circle', {cx: contribX(pt[0]), cy: yc + (k - (pt[1] - 1) / 2) * 2.1, r: 2.2, fill: colour(pt[2])}, panelB);
        
        
      }
    });
  });
})();

/* ---------- Panel (c) ---------- */
const panelC = document.getElementById('panelC');
(function () {
  interactionColumns.forEach((name, c) => {
    const cx = interCol(c);
    const h = txt(panelC, cx, 553, name, 13.5, '#222');
    
    
    interactionRowNames.forEach((rn, r) => {
      const g = mk('line', {x1: cx - 45, x2: cx + 45, y1: interRow(r), y2: interRow(r), stroke: '#eeeeee', 'stroke-width': 1, 'stroke-dasharray': '1 2'}, panelC);
      
      
    });
    const zero = mk('line', {x1: cx, x2: cx, y1: 563, y2: 925, stroke: '#a0a0a0', 'stroke-width': 1.8}, panelC);
    
    
    const axis = mk('line', {x1: cx - 45, x2: cx + 45, y1: 925, y2: 925, stroke: '#333', 'stroke-width': 1.8}, panelC);
    
    
    interactionTicks.forEach(v => {
      const t = mk('line', {x1: interX(c, v), x2: interX(c, v), y1: 925, y2: 929, stroke: '#333', 'stroke-width': 1}, panelC);
      
      
      const l = txt(panelC, interX(c, v), 940, v.toFixed(1), 17.5, '#444');
      
      
    });
  });
  interactionRowNames.forEach((rn, r) => {
    const l = txt(panelC, 111, interRow(r), rn, 13, '#444', 'end');
    
    
  });
  interactionRows.forEach((cells, r) => {
    cells.forEach((clusters, c) => {
      clusters.forEach(pt => {
        for (let k = 0; k < pt[1]; k++) {
          const dot = mk('circle', {cx: interX(c, pt[0]), cy: interRow(r) + (k - (pt[1] - 1) / 2) * 3, r: 2.6, fill: colour(pt[2])}, panelC);
          
          
        }
      });
    });
  });
})();

/* ---------- Panel (d) ---------- */
const panelD = document.getElementById('panelD');
(function () {
  function axes(yTop, yBottom) {
    const a = mk('path', {d: 'M955 ' + yTop + 'V' + yBottom + 'H1133', fill: 'none', stroke: '#444', 'stroke-width': 1.6}, panelD);
    
    
  }
  axes(550, 698);
  axes(762, 908);
  depP12Ticks.forEach(v => {
    const l = txt(panelD, dep1X(v), 709, String(v), 20, '#444');
    
    
  });
  depP12YTicks.forEach(v => {
    const l = txt(panelD, 951, dep1Y(v), String(v), 20, '#444', 'end');
    
    
  });
  depP12ColorTicks.forEach(v => {
    const l = txt(panelD, 1150, dep1CY(v), String(v), 16, '#333', 'start');
    
    
  });
  depP07Ticks.forEach(v => {
    const l = txt(panelD, dep2X(v), 919, v.toFixed(2), 20, '#444');
    
    
  });
  depP07YTicks.forEach(v => {
    const l = txt(panelD, 951, dep2Y(v), String(v), 20, '#444', 'end');
    
    
  });
  depP07ColorTicks.forEach(v => {
    const l = txt(panelD, 1150, dep2CY(v), String(v), 15, '#333', 'start');
    
    
  });
  dependenceP12.forEach(p => {
    const dot = mk('circle', {cx: dep1X(p[0]), cy: dep1Y(p[1]), r: 3.2, fill: colour(p[2])}, panelD);
    
    
  });
  dependenceP07.forEach(p => {
    const dot = mk('circle', {cx: dep2X(p[0]), cy: dep2Y(p[1]), r: 3.2, fill: colour(p[2])}, panelD);
    
    
  });
})();
</script>
</body>
</html>
